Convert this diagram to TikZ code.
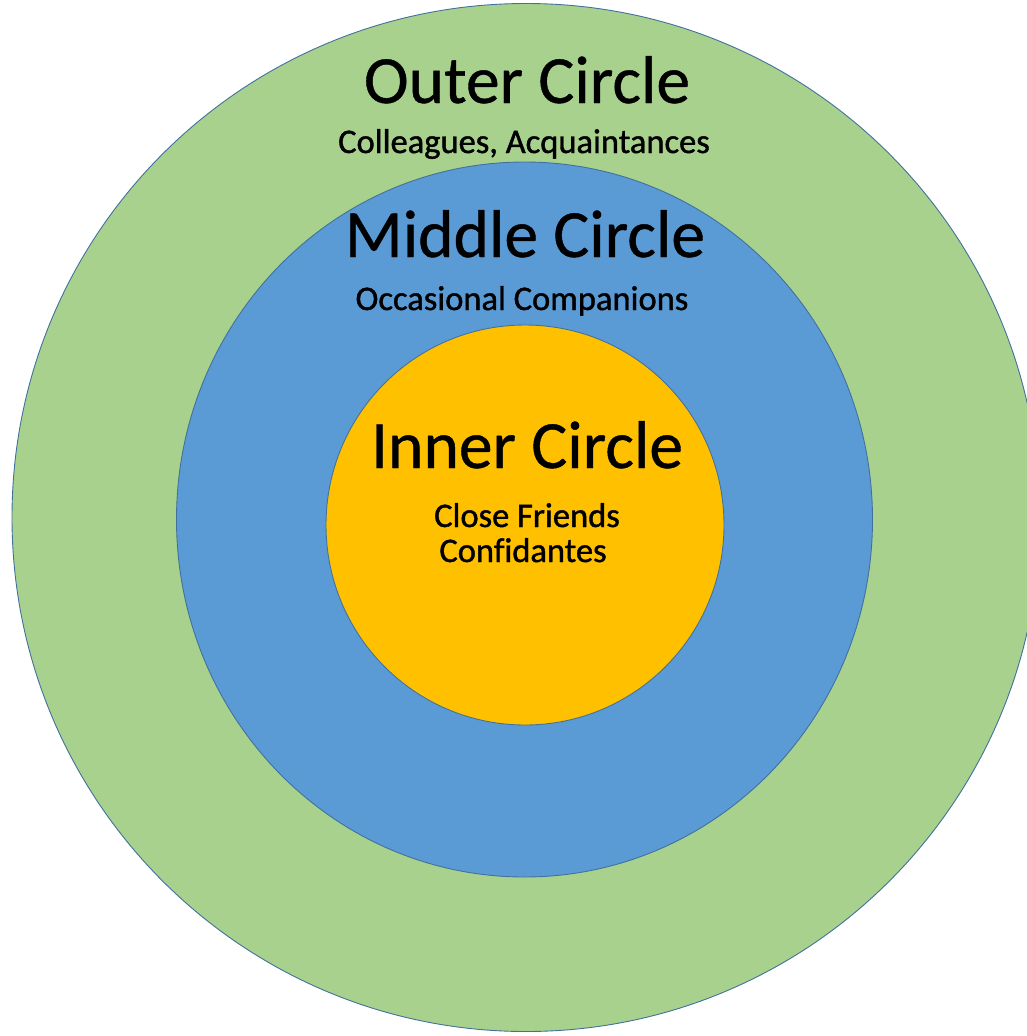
\documentclass[tikz,border=0pt]{standalone}
\usepackage{fontspec}
\setmainfont{Carlito}[Ligatures=NoCommon]
\newfontfamily\titlefont{Carlito}[Ligatures=NoCommon,FakeBold=0.6]
\newfontfamily\subfont{Carlito}[Ligatures=NoCommon,FakeBold=1.2]
\definecolor{ringgreen}{HTML}{A9D18E}
\definecolor{ringblue}{HTML}{5B9BD5}
\definecolor{ringgold}{HTML}{FFC000}
\definecolor{ringline}{HTML}{41719C}
\begin{document}
\begin{tikzpicture}[x=1pt,y=-1pt,
  ring/.style={draw=ringline,line width=0.9pt},
  title/.style={anchor=base,inner sep=0pt,font=\titlefont\fontsize{67.5}{70}\selectfont,text=black},
  sub/.style={anchor=base,inner sep=0pt,font=\subfont\fontsize{34.5}{36}\selectfont,text=black}]
\useasboundingbox (0,0) rectangle (1027,1036);
\begin{scope}
\clip (0,0) rectangle (1027,1036);
\path[ring,fill=ringgreen] (526,517.5) circle [radius=514];
\end{scope}
\path[ring,fill=ringblue] (524.5,519.5) ellipse [x radius=348,y radius=357.5];
\path[ring,fill=ringgold] (525,525) ellipse [x radius=199,y radius=200];
\node[title] (outer) at (527,103) {Outer Circle};
\node[sub] (outersub) at (524,153) {Colleagues, Acquaintances};
\node[title] (middle) at (525,257) {Middle Circle};
\node[sub] (middlesub) at (522,310) {Occasional Companions};
\node[title] (inner) at (527,468) {Inner Circle};
\node[sub] (innersub1) at (527,527) {Close Friends};
\node[sub] (innersub2) at (523,562) {Confidantes};
\end{tikzpicture}
\end{document}
